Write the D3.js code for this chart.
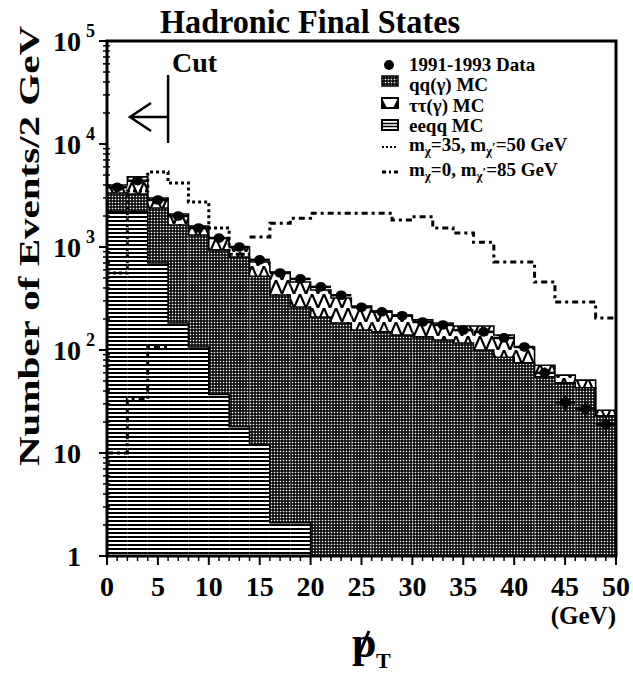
<!DOCTYPE html>
<html>
<head>
<meta charset="utf-8">
<script src="https://cdn.jsdelivr.net/npm/d3@7/dist/d3.min.js"></script>
<style>
  body { margin: 0; background: #fff; }
  svg { display: block; }
  text { font-family: "Liberation Serif", "Times New Roman", serif; font-weight: bold; fill: #000; }
</style>
</head>
<body>
<div id="chart"></div>
<script>
// DATA - events per 2 GeV bin
let binLow = [0, 2, 4, 6, 8, 10, 12, 14, 16, 18, 20, 22, 24, 26, 28, 30, 32, 34, 36, 38, 40, 42, 44, 46, 48]
let binWidth = 2

let dataEvents = [3800, 4400, 2860, 2000, 1530, 1220, 1000, 750, 560, 490, 410, 340, 260, 235, 215, 187, 175, 156, 150, 131, 107, 60, 31, 27, 19]
let eeqqMC = [2200, 2200, 700, 183, 107, 37, 18, 12, 2.1, 2.1, 0, 0, 0, 0, 0, 0, 0, 0, 0, 0, 0, 0, 0, 0, 0]
let qqMC = [1140, 1070, 1690, 1450, 1200, 900, 782, 508, 340, 259, 209, 183, 156, 150, 140, 134, 125, 117, 100, 85, 75, 55, 48, 43, 23]
let tautauMC = [660, 1530, 600, 455, 290, 285, 200, 195, 230, 196, 174, 137, 111, 89, 79, 62, 58, 54, 71, 55, 32, 16, 9, 8, 3]
// signal: m_chi=35, m_chi'=50 GeV (dotted); the rest is hidden under the data
let signalA = [560, 3500, 5350, 4180, 2740, 1530, 850, null, null, null, null, null, null, null, null, null, null, null, null, null, null, null, null, null, null]
// signal: m_chi=0, m_chi'=85 GeV (dash-dot); bins 6-14 GeV are hidden in the MC
let signalB = [10, 33, 107, null, null, null, null, 1250, 1700, 1900, 2130, 2130, 2130, 2130, 1830, 1970, 1530, 1370, 1110, 715, 715, 457, 292, 292, 205]

let xTicks = [0, 5, 10, 15, 20, 25, 30, 35, 40, 45, 50]
let yDecades = [1, 10, 100, 1000, 10000, 100000]
let yLabels = [['1', ''], ['10', ''], ['10', '2'], ['10', '3'], ['10', '4'], ['10', '5']]
let cutAt = 6

// CHART SETUP
let width = 633, height = 674

let svg = d3.select('#chart')
  .append('svg')
  .attr('width', width)
  .attr('height', height)

let x = d3.scaleLinear().domain([0, 50]).range([107, 616])
let y = d3.scaleLog().domain([1, 1e5]).range([556, 41])
let yv = function (v) { return v > 1 ? y(v) : y(1) }

// PATTERNS
let defs = svg.append('defs')

let qqPat = defs.append('pattern').attr('id', 'qqPat')
  .attr('patternUnits', 'userSpaceOnUse').attr('width', 3).attr('height', 3)
qqPat.append('rect').attr('width', 3).attr('height', 3).attr('fill', '#000')
qqPat.append('rect').attr('x', 0.75).attr('y', 0.75).attr('width', 1.5).attr('height', 1.5).attr('fill', '#fff')

let eePat = defs.append('pattern').attr('id', 'eePat')
  .attr('patternUnits', 'userSpaceOnUse').attr('width', 8).attr('height', 4)
eePat.append('rect').attr('width', 8).attr('height', 4).attr('fill', '#fff')
eePat.append('rect').attr('y', 0).attr('width', 8).attr('height', 2).attr('fill', '#000')

let ttPat = defs.append('pattern').attr('id', 'ttPat')
  .attr('patternUnits', 'userSpaceOnUse').attr('width', 12).attr('height', 14)
ttPat.append('rect').attr('width', 12).attr('height', 14).attr('fill', '#fff')
ttPat.append('path').attr('d', 'M0,0 L6,14 L12,0').attr('fill', 'none')
  .attr('stroke', '#000').attr('stroke-width', 2.2)

// STACK (eeqq at the bottom, then qq, then tau tau)
let eeTop = eeqqMC.map(function (v) { return v })
let qqTop = qqMC.map(function (v, i) { return eeTop[i] + v })
let totTop = tautauMC.map(function (v, i) { return qqTop[i] + v })

let layers = [
  { bottom: eeTop.map(function () { return 0 }), top: eeTop, fill: 'url(#eePat)' },
  { bottom: eeTop, top: qqTop, fill: 'url(#qqPat)' },
  { bottom: qqTop, top: totTop, fill: 'url(#ttPat)' }
]

let plot = svg.append('g')

layers.forEach(function (layer) {
  plot.append('g').selectAll('rect')
    .data(binLow)
    .enter().append('rect')
      .attr('x', function (d) { return x(d) })
      .attr('width', function (d) { return x(d + binWidth) - x(d) })
      .attr('y', function (d, i) { return yv(layer.top[i]) })
      .attr('height', function (d, i) { return Math.max(0, yv(layer.bottom[i]) - yv(layer.top[i])) })
      .attr('fill', layer.fill)
})

function stepPoints (values) {
  let pts = []
  binLow.forEach(function (lo, i) {
    pts.push([lo, values[i]])
    pts.push([lo + binWidth, values[i]])
  })
  return pts
}

let stepLine = d3.line()
  .defined(function (d) { return d[1] != null })
  .x(function (d) { return x(d[0]) })
  .y(function (d) { return yv(d[1]) })

// layer outlines
;[eeTop, qqTop, totTop].forEach(function (vals) {
  plot.append('path')
    .attr('d', stepLine(stepPoints(vals)))
    .attr('fill', 'none')
    .attr('stroke', '#000')
    .attr('stroke-width', 1.6)
})

// signal histograms
plot.append('path')
  .attr('d', stepLine(stepPoints(signalA)))
  .attr('fill', 'none')
  .attr('stroke', '#000')
  .attr('stroke-width', 3)
  .attr('stroke-dasharray', '3,3')

plot.append('path')
  .attr('d', stepLine(stepPoints(signalB)))
  .attr('fill', 'none')
  .attr('stroke', '#000')
  .attr('stroke-width', 3)
  .attr('stroke-dasharray', '6,4,3,4')

// data points
let pts = plot.append('g').selectAll('g')
  .data(binLow)
  .enter().append('g')

pts.append('line')
  .attr('x1', function (d) { return x(d) })
  .attr('x2', function (d) { return x(d + binWidth) })
  .attr('y1', function (d, i) { return y(dataEvents[i]) })
  .attr('y2', function (d, i) { return y(dataEvents[i]) })
  .attr('stroke', '#000').attr('stroke-width', 2.5)

pts.append('line')
  .attr('x1', function (d) { return x(d + binWidth / 2) })
  .attr('x2', function (d) { return x(d + binWidth / 2) })
  .attr('y1', function (d, i) { return y(dataEvents[i] + Math.sqrt(dataEvents[i])) })
  .attr('y2', function (d, i) { return y(dataEvents[i] - Math.sqrt(dataEvents[i])) })
  .attr('stroke', '#000').attr('stroke-width', 2)

pts.append('ellipse')
  .attr('cx', function (d) { return x(d + binWidth / 2) })
  .attr('cy', function (d, i) { return y(dataEvents[i]) })
  .attr('rx', 5.5).attr('ry', 4.8)
  .attr('fill', '#000')

// FRAME
svg.append('rect')
  .attr('x', x(0)).attr('y', y(1e5))
  .attr('width', x(50) - x(0)).attr('height', y(1) - y(1e5))
  .attr('fill', 'none').attr('stroke', '#000').attr('stroke-width', 3)

// X TICKS
let axisG = svg.append('g')
d3.range(0, 51).forEach(function (t) {
  let major = xTicks.indexOf(t) >= 0
  axisG.append('line')
    .attr('x1', x(t)).attr('x2', x(t))
    .attr('y1', y(1)).attr('y2', y(1) + (major ? 9 : 5))
    .attr('stroke', '#000').attr('stroke-width', major ? 2 : 1.5)
})
axisG.selectAll('.xlab')
  .data(xTicks)
  .enter().append('text')
    .attr('class', 'xlab')
    .attr('x', function (d) { return x(d) })
    .attr('y', 596)
    .style('text-anchor', 'middle')
    .style('font-size', '28px')
    .text(function (d) { return d })

axisG.append('text')
  .attr('x', 616).attr('y', 624)
  .style('text-anchor', 'end')
  .style('font-size', '25px')
  .text('(GeV)')

// Y TICKS
yDecades.forEach(function (dec, i) {
  axisG.append('line')
    .attr('x1', x(0) - 8).attr('x2', x(0))
    .attr('y1', y(dec)).attr('y2', y(dec))
    .attr('stroke', '#000').attr('stroke-width', 2)
  if (dec < 1e5) {
    for (let k = 2; k <= 9; k++) {
      axisG.append('line')
        .attr('x1', x(0) - 4).attr('x2', x(0) + 3)
        .attr('y1', y(dec * k)).attr('y2', y(dec * k))
        .attr('stroke', '#000').attr('stroke-width', 1.5)
    }
  }
  axisG.append('text')
    .attr('x', 81).attr('y', y(dec) + 10)
    .style('text-anchor', 'end')
    .style('font-size', '28px')
    .text(yLabels[i][0])
  if (yLabels[i][1]) {
    axisG.append('text')
      .attr('x', 86).attr('y', y(dec) - 4)
      .style('font-size', '18px')
      .text(yLabels[i][1])
  }
})

// TITLES
svg.append('text')
  .attr('x', 160).attr('y', 33)
  .attr('textLength', 300).attr('lengthAdjust', 'spacingAndGlyphs')
  .style('font-size', '34px')
  .text('Hadronic Final States')

svg.append('text')
  .attr('transform', 'translate(39,246) rotate(-90)')
  .style('text-anchor', 'middle')
  .attr('textLength', 440).attr('lengthAdjust', 'spacingAndGlyphs')
  .style('font-size', '29px')
  .text('Number of Events/2 GeV')

// p-slash T
let pt = svg.append('g')
pt.append('text')
  .attr('x', 352).attr('y', 657)
  .style('font-size', '44px')
  .text('p')
pt.append('line')
  .attr('x1', 369).attr('y1', 631).attr('x2', 358).attr('y2', 657)
  .attr('stroke', '#000').attr('stroke-width', 3)
pt.append('text')
  .attr('x', 376).attr('y', 668)
  .style('font-size', '22px')
  .text('T')

// CUT
let cx = x(cutAt)
svg.append('text')
  .attr('x', 172).attr('y', 72)
  .style('font-size', '28px')
  .text('Cut')
svg.append('line')
  .attr('x1', cx).attr('x2', cx).attr('y1', 75).attr('y2', 143)
  .attr('stroke', '#000').attr('stroke-width', 2.5)
svg.append('path')
  .attr('d', 'M' + cx + ',117 L130,117 M151,103 L130,117 L151,131')
  .attr('fill', 'none').attr('stroke', '#000').attr('stroke-width', 2.5)

// LEGEND
let lg = svg.append('g')
let lx = 382, tx = 409
let fs = '19px', fsSub = '13px'

lg.append('circle').attr('cx', 389).attr('cy', 65).attr('r', 5).attr('fill', '#000')
lg.append('text').attr('x', tx).attr('y', 71).style('font-size', fs).text('1991-1993 Data')

lg.append('rect').attr('x', lx).attr('y', 76).attr('width', 16).attr('height', 10)
  .attr('fill', 'url(#qqPat)').attr('stroke', '#000').attr('stroke-width', 1.5)
lg.append('text').attr('x', tx).attr('y', 91).style('font-size', fs).text('qq(γ) MC')

lg.append('rect').attr('x', lx).attr('y', 98).attr('width', 16).attr('height', 10)
  .attr('fill', '#fff').attr('stroke', '#000').attr('stroke-width', 2)
lg.append('path').attr('d', 'M' + lx + ',98 L' + (lx + 5) + ',108 L' + lx + ',108 Z M' + (lx + 16) + ',98 L' + (lx + 11) + ',108 L' + (lx + 16) + ',108 Z')
  .attr('fill', '#000')
lg.append('text').attr('x', tx).attr('y', 112).style('font-size', fs).text('ττ(γ) MC')

lg.append('rect').attr('x', lx).attr('y', 120).attr('width', 16).attr('height', 10)
  .attr('fill', '#fff').attr('stroke', '#000').attr('stroke-width', 2)
lg.append('line').attr('x1', lx).attr('x2', lx + 16).attr('y1', 123.5).attr('y2', 123.5).attr('stroke', '#000').attr('stroke-width', 1.5)
lg.append('line').attr('x1', lx).attr('x2', lx + 16).attr('y1', 126.5).attr('y2', 126.5).attr('stroke', '#000').attr('stroke-width', 1.5)
lg.append('text').attr('x', tx).attr('y', 132).style('font-size', fs).text('eeqq MC')

lg.append('line').attr('x1', lx).attr('x2', lx + 16).attr('y1', 147).attr('y2', 147)
  .attr('stroke', '#000').attr('stroke-width', 2).attr('stroke-dasharray', '2,2')
let t1 = lg.append('text').attr('x', tx).attr('y', 151).style('font-size', fs)
t1.append('tspan').text('m')
t1.append('tspan').attr('dy', 4).style('font-size', fsSub).text('χ')
t1.append('tspan').attr('dy', -4).text('=35, m')
t1.append('tspan').attr('dy', 4).style('font-size', fsSub).text('χ')
t1.append('tspan').attr('dy', -4).style('font-size', fsSub).text('′')
t1.append('tspan').text('=50 GeV')

lg.append('line').attr('x1', lx).attr('x2', lx + 16).attr('y1', 172).attr('y2', 172)
  .attr('stroke', '#000').attr('stroke-width', 3).attr('stroke-dasharray', '4,3,2,3')
let t2 = lg.append('text').attr('x', tx).attr('y', 176).style('font-size', fs)
t2.append('tspan').text('m')
t2.append('tspan').attr('dy', 4).style('font-size', fsSub).text('χ')
t2.append('tspan').attr('dy', -4).text('=0, m')
t2.append('tspan').attr('dy', 4).style('font-size', fsSub).text('χ')
t2.append('tspan').attr('dy', -4).style('font-size', fsSub).text('′')
t2.append('tspan').text('=85 GeV')
</script>
</body>
</html>
